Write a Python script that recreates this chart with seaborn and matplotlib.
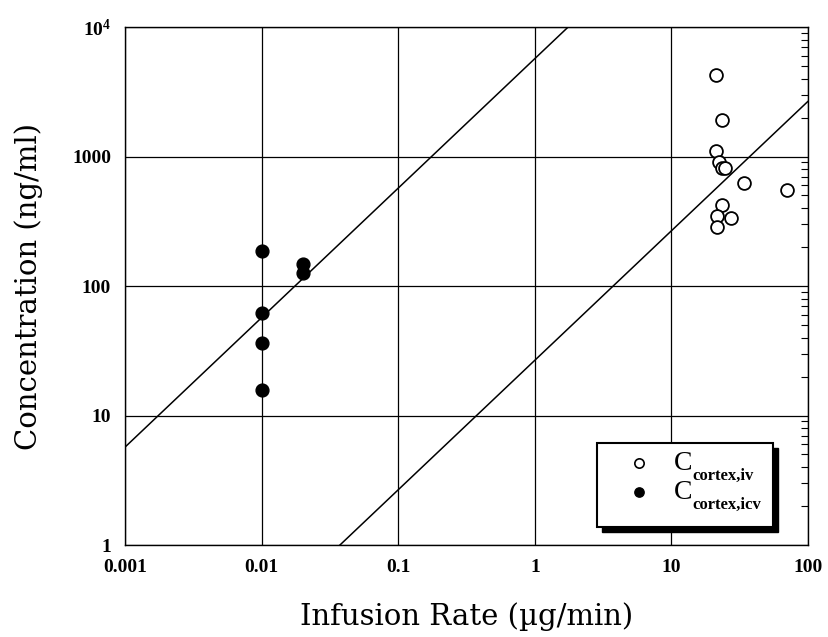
import numpy as np
import pandas as pd
import matplotlib
matplotlib.use("Agg")
import matplotlib.pyplot as plt
import seaborn as sns
from matplotlib.patches import Rectangle
from matplotlib.ticker import LogLocator, NullFormatter, NullLocator, FixedLocator, FixedFormatter

# ---- data ----
iv_rate = [21.2, 23.5, 21.2, 22.3, 23.5, 24.7, 34.0, 70.0, 23.5, 21.5, 27.3, 21.5]
iv_conc = [4250, 1900, 1100, 900, 820, 820, 620, 550, 425, 350, 333, 284]
icv_rate = [0.01, 0.02, 0.02, 0.01, 0.01, 0.01]
icv_conc = [185, 147, 127, 62, 36.5, 15.8]
fit_slopes = [5700.0, 26.7]   # y = k * x lines (icv, iv)
xticks = [0.001, 0.01, 0.1, 1, 10, 100]
xticklabels = ["0.001", "0.01", "0.1", "1", "10", "100"]
yticks = [1, 10, 100, 1000, 10000]
yticklabels = ["1", "10", "100", "1000", r"10$^{\mathbf{4}}$"]
legend_subs = ["cortex,iv", "cortex,icv"]

sns.set_style("white")
plt.rcParams['font.family'] = ['Liberation Serif', 'DejaVu Serif']
plt.rcParams['mathtext.fontset'] = 'custom'
plt.rcParams['mathtext.rm'] = 'Liberation Serif'
plt.rcParams['mathtext.bf'] = 'Liberation Serif:bold'
plt.rcParams['mathtext.it'] = 'Liberation Serif:italic'
for key in ['text.color', 'axes.labelcolor', 'xtick.color', 'ytick.color', 'axes.edgecolor']:
    plt.rcParams[key] = 'black'

fig = plt.figure(figsize=(8.29, 6.37), dpi=100)
ax = fig.add_axes([0.1508, 0.1444, 0.8239, 0.8132])
ax.set_xscale('log')
ax.set_yscale('log')
ax.set_xlim(0.001, 100)
ax.set_ylim(1, 10000)

ax.grid(True, which='major', color='black', linewidth=0.9)
ax.set_axisbelow(True)

xl = np.logspace(-3, 2, 200)
for k in fit_slopes:
    dfl = pd.DataFrame({'x': xl, 'y': k * xl})
    sns.lineplot(data=dfl, x='x', y='y', ax=ax, color='black', linewidth=1.1, legend=False)

df_iv = pd.DataFrame({'rate': iv_rate, 'conc': iv_conc})
df_icv = pd.DataFrame({'rate': icv_rate, 'conc': icv_conc})
sns.scatterplot(data=df_iv, x='rate', y='conc', ax=ax, marker='o', s=85,
                facecolor='white', edgecolor='black', linewidth=1.3, zorder=5)
sns.scatterplot(data=df_icv, x='rate', y='conc', ax=ax, marker='o', s=85,
                color='black', edgecolor='black', linewidth=1.0, zorder=5)

ax.xaxis.set_major_locator(FixedLocator(xticks))
ax.xaxis.set_major_formatter(FixedFormatter(xticklabels))
ax.yaxis.set_major_locator(FixedLocator(yticks))
ax.yaxis.set_major_formatter(FixedFormatter(yticklabels))
ax.yaxis.set_minor_locator(LogLocator(base=10, subs=np.arange(2, 10)))
ax.yaxis.set_minor_formatter(NullFormatter())
ax.xaxis.set_minor_locator(NullLocator())
ax.tick_params(axis='both', which='both', direction='in', top=True, right=True,
               colors='black', labelcolor='black')
ax.tick_params(axis='both', which='major', length=0, pad=10)
ax.tick_params(axis='y', which='minor', length=5, width=0.8)
for lab in ax.get_xticklabels() + ax.get_yticklabels():
    lab.set_fontweight('bold')
    lab.set_fontsize(14)
    lab.set_color('black')
for sp in ax.spines.values():
    sp.set_color('black')
    sp.set_linewidth(1.0)

ax.set_xlabel(u"Infusion Rate (\u00b5g/min)", fontsize=21, labelpad=19,
              family=['DejaVu Serif'], color='black')
ax.set_ylabel("Concentration (ng/ml)", fontsize=21, labelpad=21,
              family=['DejaVu Serif'], color='black')

# ---- legend (drawn in axes coordinates) ----
x0, y0, w, h = 0.691, 0.035, 0.258, 0.162
sh_dx, sh_dy = 0.0075, -0.0095
ax.add_patch(Rectangle((x0 + sh_dx, y0 + sh_dy), w, h, transform=ax.transAxes,
                       facecolor='black', edgecolor='black', zorder=8))
ax.add_patch(Rectangle((x0, y0), w, h, transform=ax.transAxes,
                       facecolor='white', edgecolor='black', linewidth=1.5, zorder=9))
row_y = [0.158, 0.102]
styles = [dict(facecolor='white', edgecolor='black', linewidth=1.2),
          dict(facecolor='black', edgecolor='black', linewidth=1.0)]
for ry, st, sub in zip(row_y, styles, legend_subs):
    ax.scatter([0.7526], [ry], s=45, transform=ax.transAxes, zorder=10, clip_on=False, **st)
    ax.text(0.804, ry, "C", transform=ax.transAxes, fontsize=20, va='center',
            ha='left', zorder=10, color='black')
    ax.text(0.831, ry - 0.024, sub, transform=ax.transAxes, fontsize=12,
            fontweight='bold', va='center', ha='left', zorder=10, color='black')

fig.savefig('out.png', dpi=100)
